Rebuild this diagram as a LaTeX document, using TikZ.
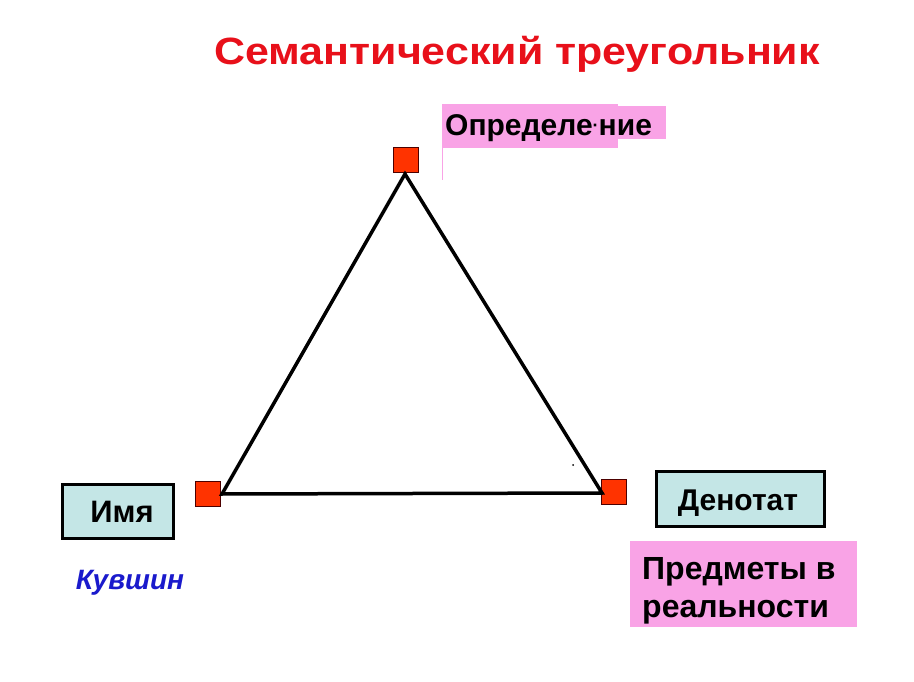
\documentclass[tikz,border=0pt]{standalone}
\usepackage{fontspec}
\setmainfont{Liberation Sans}
\definecolor{titlered}{HTML}{E8101A}
\definecolor{sqred}{HTML}{FF3300}
\definecolor{boxcyan}{HTML}{C4E6E6}
\definecolor{boxpink}{HTML}{F9A3E6}
\definecolor{kblue}{HTML}{1A1ACC}
\tikzset{
  px/.style={x=1pt,y=-1pt},
  vertex/.style={draw=black!70!red, line width=0.8pt, fill=sqred, minimum size=25pt, inner sep=0pt},
  termbox/.style={draw=black, line width=3pt, fill=boxcyan, inner sep=0pt},
  label/.style={inner sep=0pt, anchor=base},
  edge/.style={line width=3.5pt, line cap=round, line join=miter}
}
\begin{document}
\begin{tikzpicture}[px]
\useasboundingbox (0,0) rectangle (914,682);
\fill[white] (0,0) rectangle (914,682);
% title
\node[label, text=titlered, font=\fontsize{38}{42}\selectfont\bfseries] (title) at (517,65) {\scalebox{1.13}[1]{Семантический треугольник}};
% definition pink label
\fill[boxpink] (442,104) rectangle (618,148);
\fill[boxpink] (618,106) rectangle (666,139);
\draw[boxpink, line width=1pt] (442,148) -- (442,180);
\node[label, anchor=base west, font=\fontsize{30}{34}\selectfont\bfseries] (def) at (445,136) {Определе\raisebox{0.3ex}{\scalebox{0.6}{·}}ние};
% vertices
\node[vertex] (top) at (405.5,160) {};
\node[vertex] (left) at (208,494) {};
\node[vertex] (right) at (614,492) {};
\coordinate (topc) at (405,174);
\coordinate (leftc) at (222,494);
\coordinate (rightc) at (602,493);
\draw[edge] (topc) -- (leftc) -- (rightc) -- cycle;
% tiny dot
\fill[black] (573,465) circle (1pt);
% name box
\node[termbox, minimum width=111pt, minimum height=54pt] (name) at (118,511.5) {};
\node[label, font=\fontsize{31}{34}\selectfont\bfseries] (nametext) at (122,522) {Имя};
\node[label, text=kblue, font=\fontsize{28}{32}\selectfont\bfseries\itshape] (jug) at (130,589) {Кувшин};
% denotat box
\node[termbox, minimum width=168pt, minimum height=55pt] (den) at (740.5,499) {};
\node[label, font=\fontsize{30}{34}\selectfont\bfseries] (dentext) at (738,510) {Денотат};
% things pink box
\fill[boxpink] (630,541) rectangle (857,627);
\node[label, anchor=base west, font=\fontsize{32}{38}\selectfont\bfseries] (things) at (642,579) {Предметы в};
\node[label, anchor=base west, font=\fontsize{32}{38}\selectfont\bfseries] (things2) at (642,617) {реальности};
\end{tikzpicture}
\end{document}
